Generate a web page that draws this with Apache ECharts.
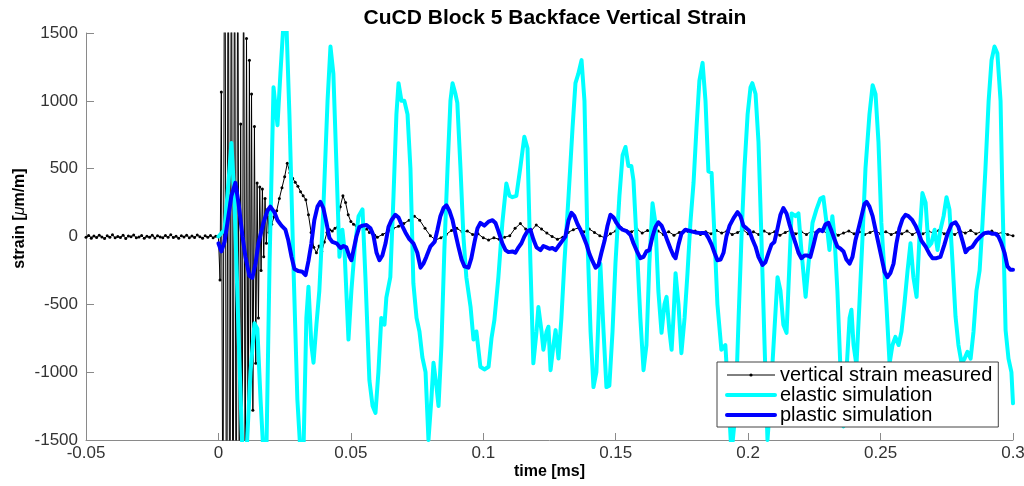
<!DOCTYPE html>
<html><head><meta charset="utf-8">
<script src="https://cdn.jsdelivr.net/npm/echarts@6/dist/echarts.min.js"></script>
<style>html,body{margin:0;padding:0;background:#fff}#c{width:1024px;height:486px}</style>
</head><body><div id="c"></div>
<script>
const titleText = 'CuCD Block 5 Backface Vertical Strain';
const xLabel = 'time [ms]';
const seriesNames = ['vertical strain measured', 'elastic simulation', 'plastic simulation'];
const xRange = [-0.05, 0.3, 0.05];
const yRange = [-1500, 1500, 500];

// [time (ms), strain (µm/m)]
const measured = [
[-0.050,-5],[-0.049,8],[-0.048,-12],[-0.047,3],[-0.046,-8],[-0.045,10],[-0.044,-3],[-0.043,-15],[-0.042,5],[-0.041,-6],
[-0.040,12],[-0.039,-10],[-0.038,0],[-0.037,-7],[-0.036,9],[-0.035,-14],[-0.034,4],[-0.033,-2],[-0.032,11],[-0.031,-9],
[-0.030,-4],[-0.029,7],[-0.028,-13],[-0.027,2],[-0.026,-6],[-0.025,10],[-0.024,-11],[-0.023,5],[-0.022,-3],[-0.021,-9],
[-0.020,8],[-0.019,-5],[-0.018,13],[-0.017,-8],[-0.016,1],[-0.015,-12],[-0.014,6],[-0.013,-4],[-0.012,9],[-0.011,-10],
[-0.010,3],[-0.009,-7],[-0.008,11],[-0.007,-2],[-0.006,-13],[-0.005,5],[-0.004,-6],[-0.003,8],[-0.002,-9],[-0.001,2],
[0.0000,0],[0.0006,-320],[0.0011,1065],[0.0017,-2500],[0.0024,3500],[0.0031,-3500],[0.0037,3200],[0.0043,-3300],
[0.0049,3000],[0.0055,-3200],[0.0061,2800],[0.0067,-2900],[0.0073,2600],[0.0079,-2500],[0.0084,830],[0.0089,-2400],
[0.0095,2400],[0.0101,-2200],[0.0106,1460],[0.0112,-1700],[0.0117,1300],[0.0121,-1000],[0.0125,1050],[0.0130,-1280],
[0.0136,810],[0.0141,-935],[0.0146,395],[0.0151,-600],[0.0156,365],[0.0161,-250],[0.0166,350],[0.0171,-150],
[0.0176,280],[0.0181,-50],[0.0186,200],[0.0191,30],[0.0196,150],[0.0201,90],
[0.021,145],[0.022,190],[0.023,280],[0.024,360],[0.025,440],[0.026,540],[0.027,470],[0.028,430],[0.029,400],[0.030,370],
[0.031,330],[0.032,300],[0.033,270],[0.034,160],[0.035,30],[0.036,-80],[0.037,-120],[0.038,-70],[0.039,-110],[0.040,-40],
[0.041,30],[0.042,50],[0.043,40],[0.044,60],[0.045,70],[0.046,220],[0.047,300],[0.048,250],[0.049,160],[0.050,110],
[0.051,90],[0.052,80],[0.053,60],[0.054,75],[0.055,50],[0.056,55],[0.057,30],[0.058,35],[0.059,10],[0.060,-5],
[0.062,15],[0.064,35],[0.066,60],[0.068,75],[0.070,95],[0.072,120],[0.074,150],[0.076,120],[0.078,60],[0.080,5],
[0.082,-25],[0.084,-10],[0.086,15],[0.088,45],[0.090,60],[0.092,35],[0.094,40],[0.096,15],[0.098,20],[0.100,-10],
[0.102,-25],[0.104,-10],[0.106,-20],[0.108,-5],[0.110,5],[0.112,60],[0.114,95],[0.116,55],[0.118,40],[0.120,85],
[0.122,55],[0.124,25],[0.126,0],[0.128,-20],[0.130,-5],[0.132,30],[0.134,50],[0.136,65],[0.138,35],[0.140,55],
[0.142,30],[0.144,5],[0.146,-10],[0.148,20],[0.150,40],[0.152,65],[0.154,45],[0.156,35],[0.158,55],[0.160,25],
[0.162,45],[0.164,20],[0.166,40],[0.168,15],[0.170,35],[0.172,10],[0.174,30],[0.176,45],[0.178,20],[0.180,40],
[0.182,15],[0.184,35],[0.186,20],[0.188,45],[0.190,25],[0.192,40],[0.194,15],[0.196,30],[0.198,50],[0.200,20],
[0.202,35],[0.204,15],[0.206,40],[0.208,20],[0.210,35],[0.212,10],[0.214,30],[0.216,45],[0.218,20],[0.220,35],
[0.222,15],[0.224,40],[0.226,25],[0.228,45],[0.230,20],[0.232,35],[0.234,10],[0.236,25],[0.238,40],[0.240,20],
[0.242,35],[0.244,15],[0.246,30],[0.248,45],[0.250,20],[0.252,35],[0.254,15],[0.256,30],[0.258,20],[0.260,40],
[0.262,15],[0.264,35],[0.266,20],[0.268,40],[0.270,25],[0.272,45],[0.274,20],[0.276,35],[0.278,15],[0.280,40],
[0.282,25],[0.284,45],[0.286,20],[0.288,35],[0.290,25],[0.292,40],[0.294,20],[0.296,30],[0.298,15],[0.300,5]
];

const elastic = [
[0.0000,0],[0.0023,50],[0.0038,400],[0.0049,690],[0.0060,300],[0.0068,-200],[0.0079,-900],[0.0091,-1600],[0.0106,-1600],
[0.0121,-1000],[0.0136,-640],[0.0147,-680],[0.0159,-1200],[0.0170,-1600],[0.0181,-1600],[0.0193,-200],[0.0208,1100],
[0.0223,820],[0.0234,1200],[0.0245,1550],[0.0257,1550],[0.0268,900],[0.0283,-200],[0.0298,-1200],[0.0310,-1600],
[0.0321,-1600],[0.0332,-600],[0.0340,-370],[0.0351,-800],[0.0359,-930],[0.0370,-650],[0.0381,-400],[0.0396,200],
[0.0412,1000],[0.0423,1400],[0.0434,1200],[0.0446,500],[0.0457,-150],[0.0468,50],[0.0476,-100],[0.0491,-760],
[0.0502,-400],[0.0514,-100],[0.0529,150],[0.0544,200],[0.0555,-300],[0.0570,-1060],[0.0582,-1250],[0.0593,-1300],
[0.0604,-1000],[0.0615,-600],[0.0627,-650],[0.0634,-450],[0.0649,-300],[0.0661,300],[0.0672,900],[0.0680,1130],
[0.0691,1000],[0.0702,1000],[0.0714,900],[0.0725,500],[0.0736,-345],[0.0748,-600],[0.0759,-700],[0.0770,-890],
[0.0782,-1000],[0.0793,-1500],[0.0804,-1200],[0.0812,-930],[0.0823,-1100],[0.0831,-1250],[0.0842,-800],[0.0853,-100],
[0.0865,500],[0.0876,1000],[0.0884,1130],[0.0895,1050],[0.0902,985],[0.0914,500],[0.0925,0],[0.0936,-300],[0.0952,-520],
[0.0963,-760],[0.0974,-700],[0.0989,-960],[0.1004,-980],[0.1020,-960],[0.1031,-750],[0.1042,-615],[0.1057,-300],
[0.1072,100],[0.1087,390],[0.1099,300],[0.1110,290],[0.1125,300],[0.1140,510],[0.1155,735],[0.1167,650],[0.1178,-200],
[0.1189,-935],[0.1201,-700],[0.1208,-520],[0.1220,-700],[0.1227,-835],[0.1239,-700],[0.1246,-665],[0.1254,-985],
[0.1265,-800],[0.1273,-690],[0.1284,-900],[0.1295,-600],[0.1306,-200],[0.1322,300],[0.1337,800],[0.1348,1130],
[0.1359,1200],[0.1371,1300],[0.1382,1000],[0.1393,0],[0.1405,-700],[0.1416,-1110],[0.1427,-1000],[0.1435,-600],
[0.1442,-200],[0.1454,-700],[0.1465,-1110],[0.1476,-1100],[0.1488,-700],[0.1499,-200],[0.1514,300],[0.1526,600],
[0.1537,660],[0.1548,520],[0.1559,520],[0.1567,415],[0.1578,0],[0.1593,-600],[0.1605,-985],[0.1616,-800],[0.1627,-200],
[0.1639,245],[0.1650,100],[0.1661,-400],[0.1673,-710],[0.1684,-500],[0.1692,-445],[0.1703,-700],[0.1711,-835],
[0.1718,-600],[0.1726,-270],[0.1737,-500],[0.1748,-860],[0.1760,-600],[0.1771,-270],[0.1782,100],[0.1794,400],
[0.1805,800],[0.1816,1150],[0.1828,1280],[0.1839,1000],[0.1850,480],[0.1862,470],[0.1873,0],[0.1884,-500],[0.1899,-835],
[0.1914,-800],[0.1926,-1200],[0.1937,-1600],[0.1952,-1300],[0.1964,-600],[0.1975,0],[0.1986,500],[0.1998,900],
[0.2009,1100],[0.2016,1130],[0.2028,1050],[0.2039,700],[0.2050,0],[0.2062,-800],[0.2073,-1500],[0.2084,-1200],
[0.2099,-700],[0.2111,-300],[0.2122,-400],[0.2133,-650],[0.2145,-710],[0.2156,-200],[0.2164,170],[0.2179,150],
[0.2190,170],[0.2201,-100],[0.2217,-445],[0.2228,-200],[0.2243,100],[0.2258,200],[0.2273,280],[0.2284,290],[0.2296,100],
[0.2307,-100],[0.2318,150],[0.2326,0],[0.2337,-400],[0.2349,-1000],[0.2360,-1400],[0.2371,-1000],[0.2383,-600],
[0.2390,-540],[0.2398,-800],[0.2409,-950],[0.2420,-500],[0.2432,0],[0.2443,500],[0.2458,900],[0.2470,1115],[0.2481,1050],
[0.2492,700],[0.2503,100],[0.2511,-150],[0.2522,-500],[0.2534,-935],[0.2545,-800],[0.2556,-740],[0.2568,-800],
[0.2579,-700],[0.2590,-500],[0.2602,-250],[0.2613,-50],[0.2624,-300],[0.2636,-445],[0.2647,0],[0.2658,320],[0.2670,250],
[0.2681,-75],[0.2692,-50],[0.2704,50],[0.2715,-100],[0.2726,50],[0.2738,150],[0.2749,290],[0.2760,200],[0.2772,-200],
[0.2783,-590],[0.2794,-800],[0.2806,-935],[0.2817,-900],[0.2828,-850],[0.2840,-900],[0.2851,-700],[0.2862,-400],
[0.2874,-250],[0.2885,100],[0.2896,500],[0.2908,1000],[0.2919,1300],[0.2930,1400],[0.2941,1350],[0.2953,1000],
[0.2960,300],[0.2972,-690],[0.2983,-900],[0.2994,-1000],[0.3000,-1230]
];

const plastic = [
[0.0000,-50],[0.0011,-110],[0.0023,-40],[0.0034,100],[0.0049,300],[0.0064,395],[0.0076,245],[0.0091,0],[0.0102,-150],
[0.0117,-290],[0.0128,-305],[0.0140,-200],[0.0151,-50],[0.0170,100],[0.0185,190],[0.0196,220],[0.0211,180],[0.0223,120],
[0.0238,80],[0.0253,50],[0.0264,-30],[0.0276,-150],[0.0287,-240],[0.0302,-255],[0.0317,-260],[0.0329,-285],[0.0340,-180],
[0.0351,-50],[0.0362,120],[0.0374,220],[0.0385,255],[0.0396,210],[0.0408,100],[0.0419,-10],[0.0430,-40],[0.0446,-50],
[0.0461,-85],[0.0472,-70],[0.0483,-80],[0.0495,-150],[0.0502,-175],[0.0510,-100],[0.0521,0],[0.0532,70],[0.0544,80],
[0.0559,85],[0.0574,60],[0.0585,10],[0.0597,-120],[0.0608,-175],[0.0619,-140],[0.0631,-50],[0.0642,70],[0.0653,120],
[0.0668,160],[0.0680,140],[0.0691,90],[0.0706,30],[0.0721,-20],[0.0736,-50],[0.0751,-120],[0.0763,-230],[0.0774,-200],
[0.0785,-150],[0.0800,-75],[0.0816,-40],[0.0827,50],[0.0838,150],[0.0850,210],[0.0861,230],[0.0872,190],[0.0884,120],
[0.0895,20],[0.0906,-75],[0.0918,-170],[0.0929,-220],[0.0944,-230],[0.0955,-160],[0.0967,-40],[0.0978,60],[0.0989,100],
[0.1004,80],[0.1020,110],[0.1035,120],[0.1046,100],[0.1057,40],[0.1072,-50],[0.1084,-100],[0.1095,-115],[0.1110,-110],
[0.1121,-120],[0.1133,-80],[0.1144,-50],[0.1155,0],[0.1167,40],[0.1178,50],[0.1189,-20],[0.1201,-80],[0.1216,-100],
[0.1227,-70],[0.1239,-80],[0.1250,-90],[0.1261,-85],[0.1273,-100],[0.1284,-70],[0.1299,-30],[0.1310,0],[0.1322,120],
[0.1333,175],[0.1344,150],[0.1356,90],[0.1367,50],[0.1378,0],[0.1390,-60],[0.1401,-130],[0.1412,-180],[0.1424,-230],
[0.1435,-210],[0.1446,-120],[0.1458,-30],[0.1469,80],[0.1480,160],[0.1492,140],[0.1503,100],[0.1514,70],[0.1526,50],
[0.1541,40],[0.1556,10],[0.1567,-50],[0.1578,-100],[0.1593,-160],[0.1605,-150],[0.1616,-110],[0.1627,-100],[0.1639,0],
[0.1650,70],[0.1661,105],[0.1673,80],[0.1684,30],[0.1695,-30],[0.1707,-90],[0.1718,-140],[0.1726,-160],[0.1737,-60],
[0.1748,20],[0.1763,50],[0.1782,40],[0.1801,30],[0.1820,25],[0.1839,25],[0.1850,-10],[0.1862,-60],[0.1873,-120],
[0.1884,-175],[0.1896,-170],[0.1907,-120],[0.1918,0],[0.1930,80],[0.1945,135],[0.1960,180],[0.1971,150],[0.1982,80],
[0.1994,60],[0.2005,40],[0.2016,-20],[0.2028,-75],[0.2039,-150],[0.2054,-210],[0.2065,-190],[0.2077,-120],[0.2088,-60],
[0.2099,-40],[0.2111,60],[0.2122,160],[0.2133,210],[0.2145,170],[0.2156,90],[0.2167,20],[0.2179,-50],[0.2190,-120],
[0.2201,-160],[0.2213,-140],[0.2224,-140],[0.2235,-150],[0.2247,-60],[0.2258,30],[0.2269,50],[0.2281,40],[0.2292,90],
[0.2303,100],[0.2315,40],[0.2326,-20],[0.2337,-75],[0.2349,-90],[0.2360,-110],[0.2371,-170],[0.2383,-200],[0.2394,-150],
[0.2405,-30],[0.2417,60],[0.2428,150],[0.2439,240],[0.2447,255],[0.2458,220],[0.2470,150],[0.2481,50],[0.2492,-50],
[0.2503,-150],[0.2515,-260],[0.2526,-300],[0.2537,-270],[0.2549,-200],[0.2560,-50],[0.2571,60],[0.2583,130],[0.2594,160],
[0.2605,150],[0.2620,120],[0.2632,80],[0.2643,30],[0.2654,-30],[0.2670,-75],[0.2685,-130],[0.2696,-160],[0.2711,-160],
[0.2726,-150],[0.2741,-60],[0.2753,20],[0.2768,90],[0.2783,105],[0.2794,70],[0.2809,-30],[0.2821,-115],[0.2832,-90],
[0.2847,-75],[0.2862,-30],[0.2877,0],[0.2892,25],[0.2907,30],[0.2922,20],[0.2934,20],[0.2945,0],[0.2956,-50],
[0.2968,-120],[0.2979,-220],[0.2990,-245],[0.3000,-245]
];

const FONT = "'Liberation Sans', Arial, Helvetica, sans-serif";
const axisGray = '#8a8a8a';
const chart = echarts.init(document.getElementById('c'), null, {renderer: 'canvas'});
chart.setOption({
  animation: false,
  backgroundColor: '#ffffff',
  textStyle: {fontFamily: FONT},
  title: {
    text: titleText, left: 550, top: 3, textAlign: 'center',
    textStyle: {fontFamily: FONT, fontSize: 21, fontWeight: 'bold', color: '#000'}
  },
  grid: {left: 86, right: 11, top: 33, bottom: 46, containLabel: false, outerBoundsMode: 'none'},
  legend: {
    orient: 'vertical', left: 717, top: 362,
    itemWidth: 48, itemHeight: 4, itemGap: 0,
    padding: [3, 6, 2, 8],
    backgroundColor: '#ffffff', borderColor: '#444', borderWidth: 1, borderRadius: 0,
    lineStyle: {width: 'inherit'},
    textStyle: {fontFamily: FONT, fontSize: 20, lineHeight: 19.5, color: '#000'},
    data: seriesNames
  },
  xAxis: {
    type: 'value', min: xRange[0], max: xRange[1], interval: xRange[2],
    axisLine: {show: true, onZero: false, lineStyle: {color: axisGray, width: 1}},
    axisTick: {show: true, inside: true, length: 7, lineStyle: {color: axisGray}},
    axisLabel: {fontFamily: FONT, fontSize: 17, color: '#333', margin: 5, showMinLabel: true, showMaxLabel: true, hideOverlap: false},
    splitLine: {show: false},
    name: xLabel, nameLocation: 'middle', nameGap: 24, nameMoveOverlap: false,
    nameTextStyle: {fontFamily: FONT, fontSize: 16, fontWeight: 'bold', color: '#000'}
  },
  yAxis: {
    type: 'value', min: yRange[0], max: yRange[1], interval: yRange[2],
    axisLine: {show: true, onZero: false, lineStyle: {color: axisGray, width: 1}},
    axisTick: {show: true, inside: true, length: 8, lineStyle: {color: axisGray}},
    axisLabel: {fontFamily: FONT, fontSize: 17, color: '#333', margin: 8, showMinLabel: true, showMaxLabel: true, hideOverlap: false,
      formatter: function (v) { return String(v); }},
    splitLine: {show: false},
    name: '{a|strain [}{b|\u03bc}{a|m/m]}', nameLocation: 'middle', nameGap: 58, nameRotate: 90, nameMoveOverlap: false,
    nameTextStyle: {
      padding: [0, 0, 0, 36],
      rich: {
        a: {fontFamily: FONT, fontSize: 16, fontWeight: 'bold', color: '#000'},
        b: {fontFamily: FONT, fontSize: 16, fontStyle: 'italic', color: '#000'}
      }
    }
  },
  series: [
    {
      name: seriesNames[0], type: 'line', data: measured, z: 2,
      symbol: 'circle', symbolSize: 3, showSymbol: true, showAllSymbol: true,
      lineStyle: {color: '#000', width: 1}, itemStyle: {color: '#000'},
      clip: true, silent: true
    },
    {
      name: seriesNames[1], type: 'line', data: elastic, z: 3,
      symbol: 'none', lineStyle: {color: '#00ffff', width: 4, join: 'round', cap: 'round'}, itemStyle: {color: '#00ffff'},
      clip: true, silent: true
    },
    {
      name: seriesNames[2], type: 'line', data: plastic, z: 4,
      symbol: 'none', lineStyle: {color: '#0000ff', width: 4, join: 'round', cap: 'round'}, itemStyle: {color: '#0000ff'},
      clip: true, silent: true
    }
  ]
});
</script></body></html>
